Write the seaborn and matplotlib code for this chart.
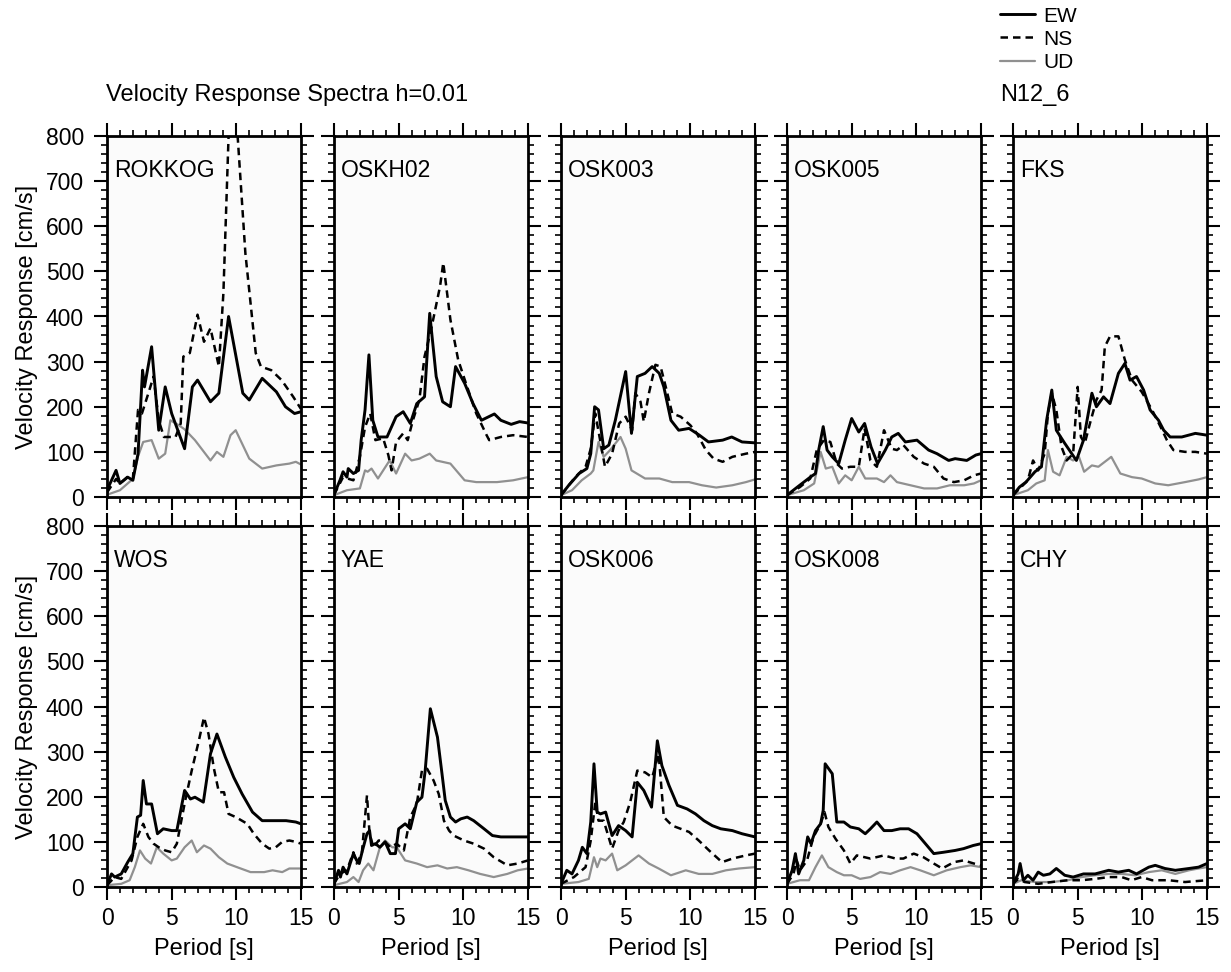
import matplotlib
matplotlib.use("Agg")
import matplotlib.pyplot as plt
from matplotlib.ticker import MultipleLocator
from matplotlib.lines import Line2D
import seaborn as sns

# ---------------- data (period [s], velocity response [cm/s]) ----------------
STATIONS = ["ROKKOG", "OSKH02", "OSK003", "OSK005", "FKS",
            "WOS", "YAE", "OSK006", "OSK008", "CHY"]
COMPONENTS = ["EW", "NS", "UD"]
X_TICKS = [0, 5, 10, 15]
Y_TICKS = [0, 100, 200, 300, 400, 500, 600, 700, 800]

ROKKOG_EW_T = [0, 0.7, 1.0, 1.6, 2.0, 2.4, 2.75, 2.9, 3.45, 4.0, 4.5, 5.0, 6.0, 6.6, 7.0, 8.0, 8.65, 9.4, 10.5, 11.0, 12.0, 13.1, 13.8, 14.5, 15]
ROKKOG_EW_V = [15, 59, 30, 44, 37, 96, 281, 244, 333, 148, 244, 185, 107, 244, 259, 211, 230, 400, 230, 215, 263, 233, 200, 185, 189]
ROKKOG_NS_T = [0, 0.7, 1.0, 1.6, 2.0, 2.4, 2.7, 3.2, 3.6, 4.0, 4.4, 5.3, 5.7, 5.9, 6.4, 7.0, 7.5, 8.0, 8.65, 9.0, 9.4, 9.75, 10.1, 10.7, 11.5, 11.9, 12.7, 13.5, 14.4, 15]
ROKKOG_NS_V = [10, 40, 30, 45, 40, 193, 185, 230, 267, 170, 133, 133, 163, 311, 319, 404, 344, 374, 289, 452, 800, 880, 800, 540, 319, 289, 281, 259, 222, 195]
ROKKOG_UD_T = [0, 1.0, 2.0, 2.4, 2.8, 3.45, 4.0, 4.5, 4.9, 5.5, 6.0, 6.8, 8.0, 8.5, 9.0, 9.55, 9.95, 11.0, 12.0, 13.1, 14.1, 14.6, 15]
ROKKOG_UD_V = [5, 15, 40, 90, 122, 126, 85, 96, 170, 160, 150, 126, 81, 100, 89, 137, 148, 85, 63, 70, 74, 78, 72]

OSKH02_EW_T = [0, 0.46, 0.7, 1.0, 1.1, 1.5, 1.9, 2.1, 2.4, 2.7, 3.0, 3.4, 4.1, 4.8, 5.35, 5.9, 6.4, 7.0, 7.4, 7.9, 8.4, 9.0, 9.4, 10.1, 10.75, 11.4, 12.4, 12.9, 13.7, 14.35, 15]
OSKH02_EW_V = [5, 37, 56, 44, 63, 52, 59, 126, 193, 315, 170, 133, 133, 178, 189, 163, 207, 222, 407, 267, 211, 200, 289, 252, 207, 170, 184, 170, 161, 167, 164]
OSKH02_NS_T = [0, 0.7, 1.5, 2.0, 2.4, 2.8, 3.2, 3.8, 4.2, 4.45, 4.8, 5.35, 5.7, 6.1, 6.6, 7.0, 7.5, 8.2, 8.45, 9.0, 9.6, 10.2, 11.0, 11.8, 12.0, 12.9, 13.85, 15]
OSKH02_NS_V = [5, 44, 37, 89, 155, 185, 126, 130, 93, 59, 122, 141, 126, 170, 215, 311, 370, 467, 519, 393, 304, 252, 185, 137, 126, 133, 137, 133]
OSKH02_UD_T = [0, 1.0, 2.0, 2.4, 2.6, 2.9, 3.4, 4.3, 4.8, 5.5, 6.0, 6.6, 7.4, 7.9, 9.0, 10.1, 11.0, 12.6, 13.85, 15]
OSKH02_UD_V = [4, 15, 19, 59, 56, 63, 41, 81, 52, 96, 81, 85, 96, 81, 74, 37, 33, 33, 37, 44]

OSK003_EW_T = [0, 0.6, 1.4, 2.0, 2.3, 2.6, 2.9, 3.3, 3.7, 4.2, 5.0, 5.45, 5.9, 6.5, 7.05, 7.6, 7.95, 8.5, 9.1, 9.9, 10.7, 11.4, 12.5, 13.2, 14.0, 15]
OSK003_EW_V = [4, 26, 52, 63, 96, 200, 193, 107, 115, 170, 278, 141, 267, 274, 289, 274, 244, 170, 148, 152, 137, 122, 126, 133, 122, 120]
OSK003_NS_T = [0, 1.1, 1.9, 2.3, 2.65, 3.05, 3.4, 3.95, 4.5, 5.0, 5.5, 5.75, 6.15, 6.4, 6.8, 7.3, 7.7, 8.1, 8.6, 9.25, 10.0, 10.5, 11.2, 11.8, 12.5, 13.25, 14.3, 15]
OSK003_NS_V = [4, 44, 67, 107, 185, 122, 67, 96, 163, 178, 148, 230, 211, 167, 230, 293, 289, 244, 185, 178, 159, 141, 104, 85, 78, 89, 96, 100]
OSK003_UD_T = [0, 0.85, 1.6, 2.3, 2.5, 2.9, 3.3, 3.8, 4.6, 5.0, 5.45, 6.5, 7.6, 8.6, 9.9, 10.9, 12.0, 13.25, 14.3, 15]
OSK003_UD_V = [4, 15, 37, 52, 59, 122, 89, 104, 133, 107, 59, 41, 41, 33, 33, 26, 21, 26, 33, 39]

OSK005_EW_T = [0, 0.8, 1.3, 1.8, 2.2, 2.45, 2.8, 3.1, 3.5, 4.0, 4.5, 5.0, 5.55, 6.0, 6.5, 7.0, 7.6, 8.1, 8.6, 9.15, 10.05, 10.95, 11.6, 12.5, 13.0, 13.9, 14.6, 15]
OSK005_EW_V = [4, 22, 33, 44, 52, 104, 156, 104, 89, 74, 126, 174, 144, 163, 111, 74, 104, 133, 141, 122, 126, 104, 96, 81, 85, 81, 93, 96]
OSK005_NS_T = [0, 1.0, 1.8, 2.3, 2.85, 3.35, 3.85, 4.25, 4.9, 5.55, 6.0, 6.45, 6.95, 7.5, 8.1, 8.5, 9.0, 9.8, 10.6, 11.35, 12.1, 12.9, 13.7, 14.45, 15]
OSK005_NS_V = [4, 22, 41, 104, 126, 122, 74, 63, 67, 67, 152, 81, 67, 148, 107, 104, 115, 89, 74, 67, 41, 33, 37, 48, 52]
OSK005_UD_T = [0, 1.3, 2.1, 2.6, 3.0, 3.5, 4.0, 4.5, 5.0, 5.55, 6.05, 6.95, 7.5, 8.0, 8.5, 9.55, 10.6, 11.6, 12.6, 13.7, 14.45, 15]
OSK005_UD_V = [4, 15, 30, 100, 63, 67, 30, 48, 37, 67, 41, 41, 33, 48, 33, 26, 19, 19, 26, 26, 30, 37]

FKS_EW_T = [0, 0.5, 1.0, 1.7, 2.2, 2.6, 3.0, 3.35, 4.0, 4.9, 5.45, 6.1, 6.45, 7.0, 7.5, 8.15, 8.65, 9.05, 9.55, 10.1, 10.6, 11.25, 11.65, 12.15, 13.05, 14.1, 15]
FKS_EW_V = [4, 22, 33, 56, 67, 170, 237, 148, 119, 81, 126, 230, 200, 222, 207, 274, 296, 259, 267, 237, 193, 170, 148, 133, 133, 141, 137]
FKS_NS_T = [0, 1.15, 1.55, 1.95, 2.45, 2.7, 3.0, 3.35, 3.75, 4.15, 4.65, 5.0, 5.25, 5.55, 5.95, 6.45, 6.85, 7.1, 7.5, 8.15, 8.65, 9.2, 9.95, 10.75, 11.4, 11.9, 12.4, 13.3, 14.1, 15]
FKS_NS_V = [4, 37, 81, 59, 96, 185, 230, 193, 111, 81, 96, 244, 133, 119, 163, 215, 237, 333, 356, 356, 304, 259, 233, 193, 156, 126, 104, 100, 100, 96]
FKS_UD_T = [0, 1.15, 1.8, 2.45, 2.7, 3.1, 3.6, 4.15, 4.65, 5.1, 5.5, 6.1, 6.6, 7.6, 8.3, 9.2, 9.95, 11.0, 12.0, 13.3, 14.35, 15]
FKS_UD_V = [4, 15, 30, 37, 104, 56, 48, 89, 81, 89, 56, 70, 67, 89, 52, 44, 41, 30, 26, 33, 39, 44]

WOS_EW_T = [0, 0.35, 0.6, 1.1, 1.6, 2.0, 2.35, 2.6, 2.8, 3.05, 3.45, 3.9, 4.35, 5.0, 5.4, 6.0, 6.45, 6.8, 7.45, 8.0, 8.5, 9.15, 9.8, 10.45, 11.25, 12.0, 12.8, 13.85, 14.6, 15]
WOS_EW_V = [4, 29, 22, 29, 55, 74, 155, 159, 236, 184, 184, 118, 129, 125, 125, 214, 195, 199, 188, 295, 339, 288, 243, 206, 166, 147, 147, 147, 144, 140]
WOS_NS_T = [0, 0.6, 1.1, 1.9, 2.35, 2.8, 3.2, 3.6, 4.0, 4.5, 5.0, 5.4, 6.05, 6.55, 7.1, 7.5, 7.85, 8.25, 8.65, 9.05, 9.4, 9.95, 10.85, 11.35, 12.0, 12.55, 13.05, 13.55, 14.1, 14.6, 15]
WOS_NS_V = [4, 22, 18, 59, 111, 140, 111, 96, 88, 81, 77, 96, 192, 258, 324, 376, 339, 265, 210, 210, 162, 155, 140, 118, 96, 85, 88, 100, 103, 100, 96]
WOS_UD_T = [0, 1.1, 1.75, 2.15, 2.55, 2.95, 3.4, 3.85, 4.35, 5.0, 5.4, 6.0, 6.55, 6.95, 7.5, 8.0, 8.65, 9.3, 10.05, 11.1, 12.15, 12.8, 13.55, 14.1, 15]
WOS_UD_V = [4, 7, 15, 44, 81, 63, 52, 88, 74, 59, 63, 88, 103, 77, 92, 85, 66, 52, 44, 33, 33, 37, 33, 41, 41]

YAE_EW_T = [0, 0.35, 0.5, 0.7, 1.0, 1.25, 1.5, 1.75, 1.95, 2.2, 2.55, 2.75, 2.9, 3.2, 3.55, 3.95, 4.35, 4.75, 5.0, 5.5, 5.9, 6.4, 6.8, 7.05, 7.45, 8.0, 8.35, 8.6, 9.0, 9.4, 9.8, 10.3, 10.8, 11.6, 12.25, 12.9, 13.9, 15]
YAE_EW_V = [7, 37, 22, 44, 29, 52, 74, 59, 52, 81, 118, 125, 92, 96, 88, 100, 74, 74, 129, 140, 129, 188, 199, 258, 395, 332, 251, 192, 155, 144, 151, 155, 147, 129, 114, 111, 111, 111]
YAE_NS_T = [0, 0.45, 1.0, 1.5, 1.75, 2.15, 2.55, 2.75, 3.05, 3.45, 3.85, 4.35, 4.85, 5.4, 5.9, 6.4, 6.8, 7.2, 7.7, 8.1, 8.5, 8.9, 9.25, 10.05, 10.8, 11.6, 12.35, 13.0, 13.4, 14.2, 15]
YAE_NS_V = [7, 29, 37, 77, 52, 74, 203, 118, 88, 103, 103, 88, 96, 81, 155, 184, 258, 262, 236, 206, 147, 125, 114, 103, 96, 85, 66, 55, 48, 52, 59]
YAE_UD_T = [0, 1.0, 1.5, 1.9, 2.25, 2.65, 3.05, 3.55, 3.95, 4.5, 4.85, 5.5, 6.4, 7.2, 8.0, 8.75, 9.5, 10.4, 11.3, 12.35, 13.4, 14.2, 15]
YAE_UD_V = [4, 11, 22, 11, 37, 52, 37, 88, 103, 88, 88, 59, 52, 44, 48, 41, 44, 37, 29, 22, 29, 37, 41]

OSK006_EW_T = [0, 0.45, 0.85, 1.35, 1.65, 2.0, 2.3, 2.55, 2.8, 3.05, 3.45, 3.95, 4.45, 5.0, 5.5, 5.9, 6.4, 7.0, 7.45, 7.8, 8.35, 9.0, 9.75, 10.4, 11.05, 11.7, 12.35, 13.25, 14.0, 15]
OSK006_EW_V = [7, 37, 29, 59, 88, 74, 144, 273, 166, 162, 166, 114, 136, 125, 111, 232, 214, 177, 324, 269, 225, 181, 173, 162, 147, 136, 129, 125, 118, 111]
OSK006_NS_T = [0, 1.0, 1.9, 2.3, 2.65, 2.9, 3.3, 3.95, 4.45, 4.85, 5.35, 5.9, 6.5, 7.05, 7.55, 7.95, 8.6, 9.25, 9.9, 10.65, 11.45, 12.45, 13.25, 14.3, 15]
OSK006_NS_V = [7, 22, 44, 103, 188, 147, 147, 85, 125, 144, 188, 258, 254, 243, 295, 155, 136, 129, 122, 103, 81, 55, 63, 70, 74]
OSK006_UD_T = [0, 1.35, 2.15, 2.55, 2.8, 3.05, 3.45, 3.95, 4.35, 5.0, 6.0, 6.8, 7.55, 8.5, 9.65, 10.65, 11.7, 12.75, 13.75, 15]
OSK006_UD_V = [7, 11, 18, 66, 44, 63, 59, 74, 37, 48, 70, 52, 41, 26, 37, 29, 29, 37, 41, 44]

OSK008_EW_T = [0, 0.4, 0.65, 0.9, 1.3, 1.6, 1.85, 2.2, 2.6, 2.8, 2.95, 3.5, 3.85, 4.4, 4.9, 5.55, 6.05, 6.45, 6.95, 7.5, 8.1, 8.75, 9.4, 10.05, 10.7, 11.35, 12.1, 13.0, 13.65, 14.4, 15]
OSK008_EW_V = [7, 37, 74, 29, 59, 111, 96, 125, 140, 170, 273, 251, 144, 144, 133, 129, 118, 129, 144, 125, 125, 129, 129, 118, 96, 74, 77, 81, 85, 92, 96]
OSK008_NS_T = [0, 0.5, 0.75, 1.0, 1.55, 2.05, 2.6, 2.9, 3.2, 3.75, 4.4, 4.9, 5.4, 6.45, 7.5, 8.4, 9.0, 9.8, 10.55, 11.35, 12.0, 12.9, 13.65, 14.45, 15]
OSK008_NS_V = [7, 29, 59, 37, 59, 111, 140, 166, 133, 107, 81, 52, 70, 63, 70, 63, 63, 74, 66, 52, 41, 55, 59, 52, 48]
OSK008_UD_T = [0, 1.0, 1.7, 2.2, 2.7, 3.2, 3.85, 4.4, 5.0, 5.65, 6.45, 7.2, 8.0, 8.75, 9.55, 10.3, 11.35, 12.35, 13.4, 14.2, 15]
OSK008_UD_V = [7, 15, 15, 44, 70, 44, 33, 26, 26, 18, 22, 33, 29, 37, 44, 37, 26, 37, 44, 48, 44]

CHY_EW_T = [0, 0.4, 0.55, 0.8, 1.15, 1.55, 1.95, 2.35, 2.85, 3.35, 4.0, 4.65, 5.45, 6.35, 7.4, 8.15, 8.95, 9.55, 10.5, 11.0, 11.75, 12.55, 13.6, 14.35, 15]
CHY_EW_V = [7, 29, 52, 15, 26, 15, 33, 26, 29, 41, 26, 22, 29, 29, 37, 33, 37, 29, 44, 48, 41, 37, 41, 44, 52]
CHY_NS_T = [0, 0.4, 0.9, 1.95, 3.0, 4.25, 5.3, 6.35, 7.4, 8.4, 9.15, 9.95, 10.75, 12.05, 13.3, 15]
CHY_NS_V = [7, 18, 11, 7, 11, 15, 15, 18, 22, 22, 15, 22, 15, 15, 11, 15]
CHY_UD_T = [0, 0.65, 1.7, 3.0, 4.25, 5.3, 6.35, 7.4, 8.4, 9.45, 10.5, 11.5, 12.55, 13.6, 14.35, 15]
CHY_UD_V = [7, 15, 11, 11, 15, 22, 26, 29, 29, 26, 33, 37, 29, 37, 41, 44]

# ---------------- styling ----------------
sns.set_theme(style="ticks")
plt.rcParams["font.family"] = ["Liberation Sans", "DejaVu Sans"]
plt.rcParams["text.color"] = "black"
plt.rcParams["axes.labelcolor"] = "black"
plt.rcParams["xtick.color"] = "black"
plt.rcParams["ytick.color"] = "black"

STYLE = {
    "EW": dict(color="black", lw=2.1, ls="-"),
    "NS": dict(color="black", lw=1.8, ls=(0, (3, 2))),
    "UD": dict(color="#909090", lw=1.6, ls="-"),
}

W, H = 1231, 972
fig = plt.figure(figsize=(W / 100, H / 100), dpi=100)

col_left_px = [107, 334, 561, 787, 1013]
ax_w = 194 / W
ax_h = 361 / H
row_bottom = [(H - 497) / H, (H - 887) / H]

g = globals()
for i, st in enumerate(STATIONS):
    r, c = divmod(i, 5)
    ax = fig.add_axes([col_left_px[c] / W, row_bottom[r], ax_w, ax_h])
    ax.set_facecolor("#fbfbfb")
    for comp in ["UD", "NS", "EW"]:
        t = g[f"{st}_{comp}_T"]
        v = g[f"{st}_{comp}_V"]
        s = STYLE[comp]
        sns.lineplot(x=t, y=v, ax=ax, color=s["color"], linewidth=s["lw"],
                     linestyle=s["ls"], estimator=None, sort=False)
    ax.set_xlim(0, 15)
    ax.set_ylim(0, 800)
    ax.set_xticks(X_TICKS)
    ax.set_yticks(Y_TICKS)
    ax.xaxis.set_minor_locator(MultipleLocator(1))
    ax.yaxis.set_minor_locator(MultipleLocator(20))
    ax.tick_params(which="major", direction="out", length=9.5, width=1.5,
                   top=True, right=True, labelsize=16.5, pad=5,
                   color="black", labelcolor="black")
    ax.tick_params(which="minor", direction="out", length=4.5, width=1.2,
                   top=True, right=True, color="black")
    ax.tick_params(axis="y", which="major", pad=7)
    ax.tick_params(labelleft=(c == 0), labelbottom=(r == 1))
    for sp in ax.spines.values():
        sp.set_linewidth(2.0)
        sp.set_color("black")
    ax.set_xlabel("Period [s]" if r == 1 else "", fontsize=17, labelpad=6,
                  color="black")
    ax.set_ylabel("Velocity Response [cm/s]" if c == 0 else "", fontsize=17,
                  labelpad=6, color="black")
    ax.text(0.035, 0.935, st, transform=ax.transAxes, fontsize=16.5,
            ha="left", va="top", color="black")

# title and event id
fig.text(106 / W, 1 - 101 / H, "Velocity Response Spectra h=0.01",
         fontsize=17, ha="left", va="baseline", color="black")
fig.text(1000 / W, 1 - 101 / H, "N12_6", fontsize=17,
         ha="left", va="baseline", color="black")

# legend
handles = [Line2D([], [], color=STYLE[k]["color"], lw=STYLE[k]["lw"],
                  ls=STYLE[k]["ls"]) for k in COMPONENTS]
leg = fig.legend(handles, COMPONENTS, loc="upper right",
                 bbox_to_anchor=(1092 / W, 1 + 8 / H), frameon=False,
                 prop={"size": 15}, handlelength=1.7,
                 labelspacing=0.2, handletextpad=0.4, borderpad=0.2)
for txt in leg.get_texts():
    txt.set_color("black")

fig.savefig("out.png", dpi=100)
